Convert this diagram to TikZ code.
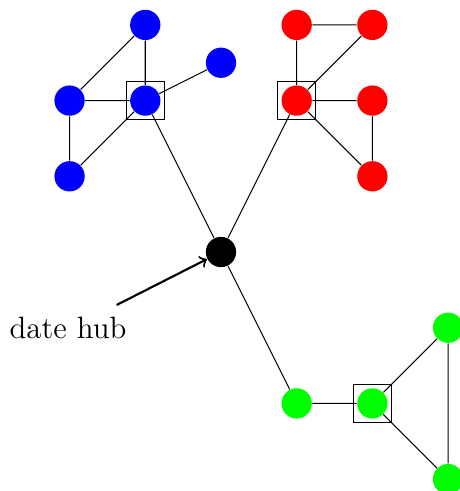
\documentclass[tikz,border=0pt]{standalone}
\begin{document}
\begin{tikzpicture}[x=1cm,y=1cm,
  vert/.style={circle,inner sep=0pt,minimum size=0.4cm},
  bv/.style={vert,fill=blue},
  rv/.style={vert,fill=red},
  gv/.style={vert,fill=green},
  hubv/.style={vert,fill=black},
  hubbox/.style={draw,rectangle,inner sep=0pt,minimum size=0.5cm},
  edge/.style={draw,line width=0.4pt}]
\useasboundingbox (-2.919,-3.157) rectangle (3.157,3.329);
% blue
\node[bv] (b1) at (-1,3) {};
\node[bv] (b2) at (-2,2) {};
\node[bv] (b3) at (-1,2) {};
\node[bv] (b4) at (0,2.5) {};
\node[bv] (b5) at (-2,1) {};
% red
\node[rv] (r1) at (1,3) {};
\node[rv] (r2) at (2,3) {};
\node[rv] (r3) at (1,2) {};
\node[rv] (r4) at (2,2) {};
\node[rv] (r5) at (2,1) {};
% green
\node[gv] (g1) at (1,-2) {};
\node[gv] (g2) at (2,-2) {};
\node[gv] (g3) at (3,-1) {};
\node[gv] (g4) at (3,-3) {};
% hub
\node[hubv] (h) at (0,0) {};
% boxes
\node[hubbox] (sb) at (b3) {};
\node[hubbox] (sr) at (r3) {};
\node[hubbox] (sg) at (g2) {};
% edges
\path[edge] (b1) -- (b3) (b1) -- (b2) (b2) -- (b3) (b2) -- (b5) (b5) -- (b3) (b3) -- (b4) (b3) -- (h);
\path[edge] (r1) -- (r2) (r1) -- (r3) (r2) -- (r3) (r3) -- (r4) (r3) -- (r5) (r4) -- (r5) (r3) -- (h);
\path[edge] (h) -- (g1) (g1) -- (g2) (g2) -- (g3) (g2) -- (g4) (g3) -- (g4);
% label
\node[font=\fontsize{11.6}{14}\selectfont,anchor=center] (lbl) at (-2.02,-1.0) {date hub};
\coordinate (astart) at (-1.378,-0.70);
\draw[->,thick] (astart) -- (h);
\end{tikzpicture}
\end{document}
